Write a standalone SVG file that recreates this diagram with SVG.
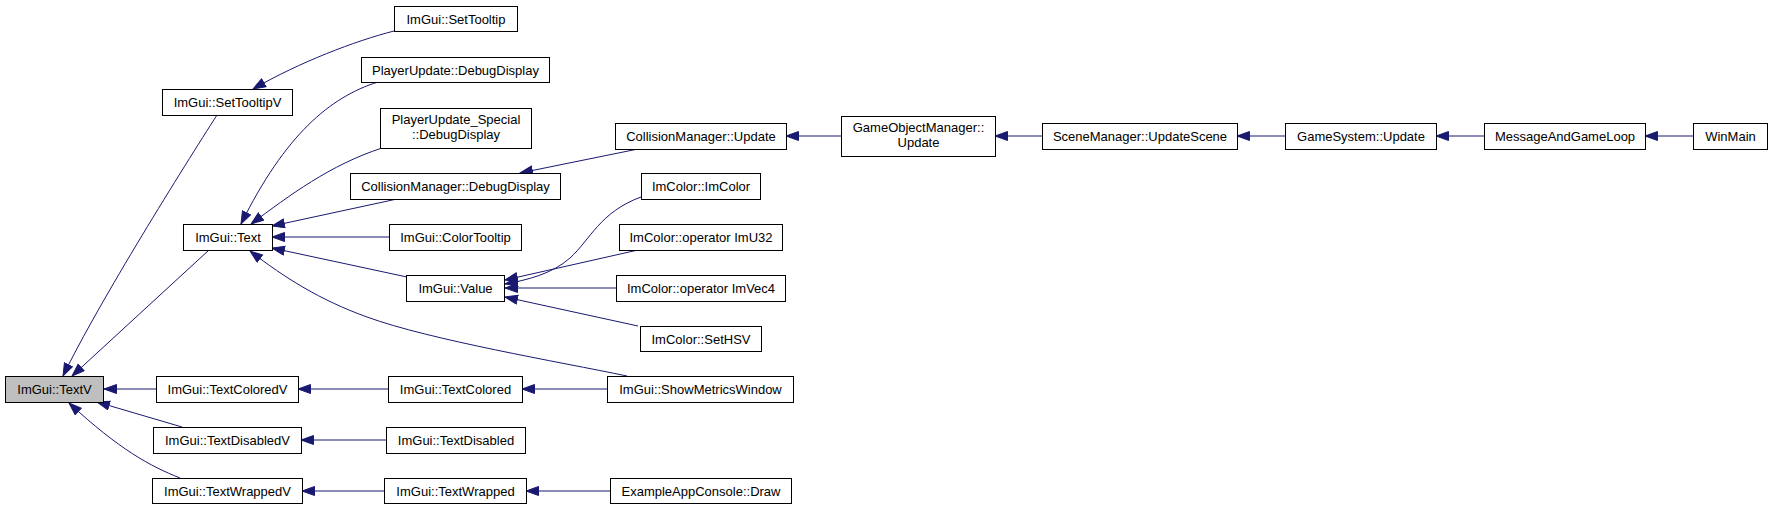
<svg xmlns="http://www.w3.org/2000/svg" width="1772" height="509" viewBox="0 0 1772 509">
<style>
.n rect{fill:#fff;stroke:#000;stroke-width:1}
.n.root rect{fill:#bfbfbf}
.n text{font-family:"Liberation Sans",Arial,sans-serif;font-size:13px;text-anchor:middle;fill:#000}
.e path{fill:none;stroke:#191970;stroke-width:1;marker-end:url(#a)}
</style>
<defs>
<marker id="a" markerUnits="userSpaceOnUse" markerWidth="14" markerHeight="11" refX="13" refY="5" orient="auto">
<path d="M0.5,0.5 L13,5 L0.5,9.5 z" fill="#191970" stroke="#191970" stroke-width="1"/>
</marker>
</defs>
<rect width="1772" height="509" fill="#fff"/>
<g id="edges" class="e">
<path d="M394,31 C355,41 300,62 253,89"/>
<path d="M217,115 C185,165 100,300 63,376"/>
<path d="M209,250 L72,376"/>
<path d="M378,82 C330,97 285,135 241,224"/>
<path d="M382,148 C330,165 290,195 251,224"/>
<path d="M397,199 L272,226"/>
<path d="M389,237 L272,237"/>
<path d="M407,277 L272,248"/>
<path d="M627,376 C560,362 430,340 367,317 C320,300 285,278 250,251"/>
<path d="M638,149 L520,173"/>
<path d="M841,136 L786,136"/>
<path d="M1042,136 L995,136"/>
<path d="M1285,136 L1237,136"/>
<path d="M1484,136 L1436,136"/>
<path d="M1693,136 L1645,136"/>
<path d="M641,197 C600,212 590,240 570,258 C552,274 527,280 505,284"/>
<path d="M638,250 L505,280"/>
<path d="M616,288 L505,288"/>
<path d="M638,326 L505,297"/>
<path d="M156,389 L104,389"/>
<path d="M388,389 L298,389"/>
<path d="M607,389 L522,389"/>
<path d="M182,427 L97,402"/>
<path d="M386,440 L301,440"/>
<path d="M180,478 C150,466 120,450 69,403"/>
<path d="M384,491 L302,491"/>
<path d="M610,491 L526,491"/>
</g>
<g id="TextV" class="n root"><rect x="5.5" y="376.5" width="98" height="26"/><text x="54.5" y="394">ImGui::TextV</text></g>
<g id="SetTooltipV" class="n"><rect x="162.5" y="89.5" width="130" height="26"/><text x="227.5" y="107">ImGui::SetTooltipV</text></g>
<g id="SetTooltip" class="n"><rect x="394.5" y="6.5" width="123" height="25"/><text x="456" y="23.5">ImGui::SetTooltip</text></g>
<g id="Text" class="n"><rect x="183.5" y="224.5" width="89" height="26"/><text x="228" y="242">ImGui::Text</text></g>
<g id="PlayerUpdateDebugDisplay" class="n"><rect x="361.5" y="57.5" width="188" height="25"/><text x="455.5" y="74.5">PlayerUpdate::DebugDisplay</text></g>
<g id="PlayerUpdateSpecialDebugDisplay" class="n"><rect x="380.5" y="108.5" width="151" height="40"/><text x="456" y="124">PlayerUpdate_Special</text><text x="456" y="139">::DebugDisplay</text></g>
<g id="CollisionManagerDebugDisplay" class="n"><rect x="350.5" y="173.5" width="210" height="26"/><text x="455.5" y="191">CollisionManager::DebugDisplay</text></g>
<g id="ColorTooltip" class="n"><rect x="389.5" y="224.5" width="132" height="26"/><text x="455.5" y="242">ImGui::ColorTooltip</text></g>
<g id="Value" class="n"><rect x="406.5" y="275.5" width="98" height="26"/><text x="455.5" y="293">ImGui::Value</text></g>
<g id="TextColoredV" class="n"><rect x="156.5" y="376.5" width="142" height="26"/><text x="227.5" y="394">ImGui::TextColoredV</text></g>
<g id="TextDisabledV" class="n"><rect x="153.5" y="427.5" width="148" height="26"/><text x="227.5" y="445">ImGui::TextDisabledV</text></g>
<g id="TextWrappedV" class="n"><rect x="152.5" y="478.5" width="150" height="25"/><text x="227.5" y="495.5">ImGui::TextWrappedV</text></g>
<g id="TextColored" class="n"><rect x="388.5" y="376.5" width="134" height="26"/><text x="455.5" y="394">ImGui::TextColored</text></g>
<g id="TextDisabled" class="n"><rect x="386.5" y="427.5" width="139" height="26"/><text x="456" y="445">ImGui::TextDisabled</text></g>
<g id="TextWrapped" class="n"><rect x="384.5" y="478.5" width="142" height="25"/><text x="455.5" y="495.5">ImGui::TextWrapped</text></g>
<g id="CollisionManagerUpdate" class="n"><rect x="615.5" y="123.5" width="171" height="26"/><text x="701" y="141">CollisionManager::Update</text></g>
<g id="GameObjectManagerUpdate" class="n"><rect x="841.5" y="116.5" width="154" height="40"/><text x="918.5" y="132">GameObjectManager::</text><text x="918.5" y="147">Update</text></g>
<g id="ImColorImColor" class="n"><rect x="641.5" y="173.5" width="119" height="26"/><text x="701" y="191">ImColor::ImColor</text></g>
<g id="ImColorImU32" class="n"><rect x="619.5" y="224.5" width="163" height="26"/><text x="701" y="242">ImColor::operator ImU32</text></g>
<g id="ImColorImVec4" class="n"><rect x="616.5" y="275.5" width="169" height="26"/><text x="701" y="293">ImColor::operator ImVec4</text></g>
<g id="SetHSV" class="n"><rect x="640.5" y="326.5" width="121" height="25"/><text x="701" y="343.5">ImColor::SetHSV</text></g>
<g id="ShowMetricsWindow" class="n"><rect x="607.5" y="376.5" width="186" height="26"/><text x="700.5" y="394">ImGui::ShowMetricsWindow</text></g>
<g id="ExampleAppConsoleDraw" class="n"><rect x="610.5" y="478.5" width="181" height="25"/><text x="701" y="495.5">ExampleAppConsole::Draw</text></g>
<g id="SceneManagerUpdateScene" class="n"><rect x="1042.5" y="123.5" width="195" height="26"/><text x="1140" y="141">SceneManager::UpdateScene</text></g>
<g id="GameSystemUpdate" class="n"><rect x="1285.5" y="123.5" width="151" height="26"/><text x="1361" y="141">GameSystem::Update</text></g>
<g id="MessageAndGameLoop" class="n"><rect x="1484.5" y="123.5" width="161" height="26"/><text x="1565" y="141">MessageAndGameLoop</text></g>
<g id="WinMain" class="n"><rect x="1693.5" y="123.5" width="74" height="26"/><text x="1730.5" y="141">WinMain</text></g>
</svg>
